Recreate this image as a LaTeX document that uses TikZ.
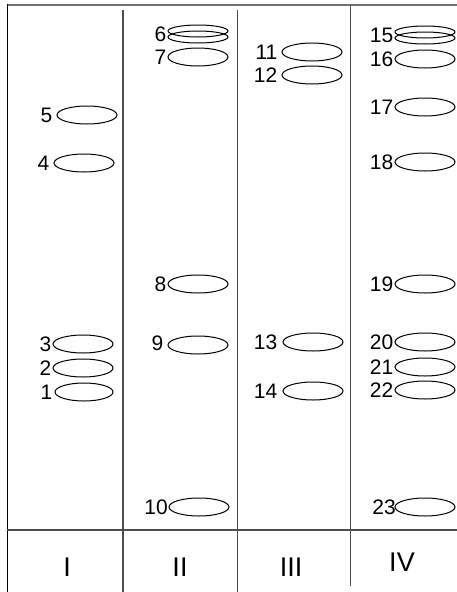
\documentclass[tikz,border=0pt]{standalone}
\usepackage{fontspec}
\setmainfont{Liberation Sans}
\usetikzlibrary{shapes.geometric}
\begin{document}
\begin{tikzpicture}[x=1pt,y=-1pt,
  band/.style={draw=black,line width=1pt,ellipse,minimum width=60pt,minimum height=18pt,inner sep=0pt},
  thinband/.style={band,minimum height=12pt},
  num/.style={anchor=east,inner sep=0pt,font=\fontsize{21}{21}\selectfont},
  lane/.style={font=\fontsize{27}{27}\selectfont,inner sep=0pt},
  divider/.style={draw=black!70,line width=1.2pt}]
\useasboundingbox (0,0) rectangle (457,592);
% frame
\draw[draw=black!55,line width=2pt] (7,4.5) -- (457,4.5);
\draw[draw=black,line width=1.6pt] (7.5,4) -- (7.5,592);
\draw[divider] (123,10) -- (123,592);
\draw[divider] (237.5,10) -- (237.5,592);
\draw[divider] (350.5,5) -- (350.5,586);
\draw[divider] (7,530) -- (457,530);
% lane I
\node[band] (e5) at (87,115) {};
\node[band] (e4) at (84,163) {};
\node[band] (e3) at (83,344) {};
\node[band] (e2) at (83,368) {};
\node[band,minimum width=58pt] (e1) at (84,392) {};
\node[num] (l5) at ([xshift=-4pt]e5.west) {5};
\node[num] (l4) at ([xshift=-4pt]e4.west) {4};
\node[num] (l3) at ([xshift=-1pt]e3.west) {3};
\node[num] (l2) at ([xshift=-1pt]e2.west) {2};
\node[num] (l1) at ([xshift=-2pt]e1.west) {1};
% lane II
\node[thinband] (e6a) at (198,31) {};
\node[thinband] (e6b) at (198,37) {};
\node[band] (e7) at (198,57) {};
\node[band] (e8) at (198,284) {};
\node[band] (e9) at (198,345) {};
\node[band] (e10) at (199,507) {};
\node[num] (l6) at ([xshift=-1pt]e6a.west |- 0,34) {6};
\node[num] (l7) at ([xshift=-1pt]e7.west) {7};
\node[num] (l8) at ([xshift=-1pt]e8.west) {8};
\node[num] (l9) at ([xshift=-4pt,yshift=2pt]e9.west) {9};
\node[num] (l10) at ([xshift=-0.5pt]e10.west) {10};
% lane III
\node[band] (e11) at (312,52) {};
\node[band] (e12) at (312,75) {};
\node[band] (e13) at (313,342) {};
\node[band] (e14) at (313,391) {};
\node[num] (l11) at ([xshift=-4pt]e11.west) {11};
\node[num] (l12) at ([xshift=-4pt]e12.west) {12};
\node[num] (l13) at ([xshift=-5pt]e13.west) {13};
\node[num] (l14) at ([xshift=-5pt]e14.west) {14};
% lane IV
\node[thinband] (e15a) at (425,32) {};
\node[thinband] (e15b) at (425,38) {};
\node[band] (e16) at (425,59) {};
\node[band] (e17) at (425,107) {};
\node[band] (e18) at (425,162) {};
\node[band] (e19) at (425,284) {};
\node[band] (e20) at (425,342) {};
\node[band] (e21) at (425,367) {};
\node[band] (e22) at (425,390) {};
\node[band] (e23) at (425,507) {};
\node[num] (l15) at ([xshift=-1pt]e15a.west |- 0,35) {15};
\node[num] (l16) at ([xshift=-1pt]e16.west) {16};
\node[num] (l17) at ([xshift=-1pt]e17.west) {17};
\node[num] (l18) at ([xshift=-1pt]e18.west) {18};
\node[num] (l19) at ([xshift=-1pt]e19.west) {19};
\node[num] (l20) at ([xshift=-1pt]e20.west) {20};
\node[num] (l21) at ([xshift=-1pt]e21.west) {21};
\node[num] (l22) at ([xshift=-1pt]e22.west) {22};
\node[num] (l23) at ([xshift=1.5pt]e23.west) {23};
% lane names
\node[lane] (n1) at (67,567) {I};
\node[lane] (n2) at (180,567) {II};
\node[lane] (n3) at (291,567) {III};
\node[lane] (n4) at (402,562) {IV};
\end{tikzpicture}
\end{document}
